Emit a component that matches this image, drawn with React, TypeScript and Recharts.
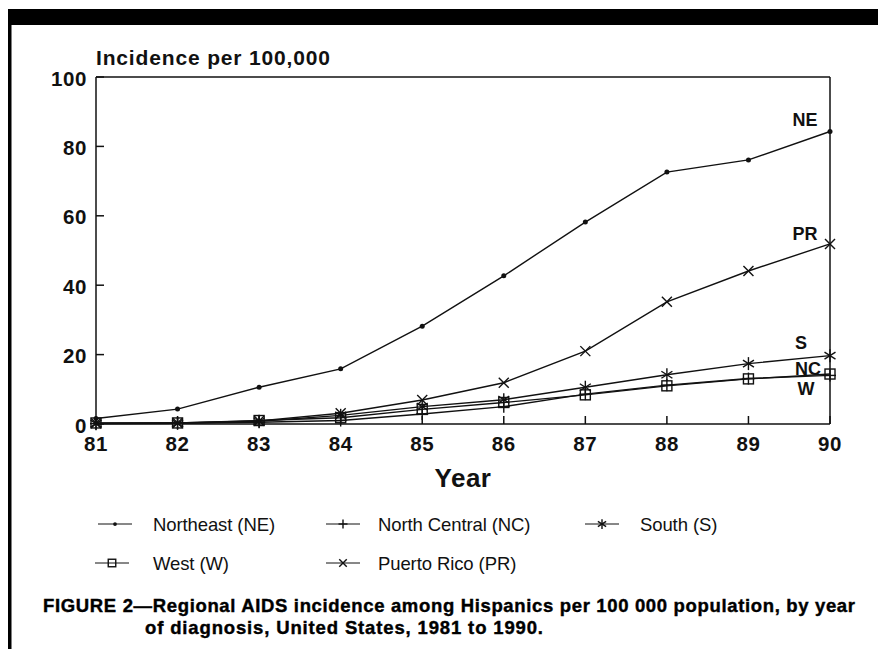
import React from 'react';
import { LineChart, Line, XAxis, YAxis, ReferenceLine } from 'recharts';

// values (incidence per 100,000)
const years = [81, 82, 83, 84, 85, 86, 87, 88, 89, 90];
const northeast = [1.6, 4.3, 10.6, 15.9, 28.2, 42.7, 58.2, 72.6, 76.1, 84.3];
const northCentral = [0.1, 0.2, 0.5, 1.0, 2.9, 5.0, 8.6, 11.2, 13.1, 14.0];
const south = [0.1, 0.2, 0.8, 2.5, 5.0, 7.0, 10.6, 14.2, 17.4, 19.7];
const west = [0.3, 0.3, 1.0, 1.8, 4.2, 6.2, 8.4, 11.0, 13.0, 14.4];
const puertoRico = [0.2, 0.3, 0.9, 3.1, 6.9, 11.9, 21.0, 35.2, 44.1, 51.9];
const yTicks = [0, 20, 40, 60, 80, 100];

const seriesNames = ['Northeast (NE)', 'North Central (NC)', 'South (S)', 'West (W)', 'Puerto Rico (PR)'];

const data = years.map((year, i) => ({
  year,
  ne: northeast[i],
  nc: northCentral[i],
  s: south[i],
  w: west[i],
  pr: puertoRico[i],
}));

const FONT = '"Liberation Sans", Arial, Helvetica, sans-serif';
const INK = '#111';

type Kind = 'dot' | 'plus' | 'star' | 'square' | 'cross';

const Marker = ({ kind, cx, cy, s = 1 }: { kind: Kind; cx: number; cy: number; s?: number }) => {
  if (cx == null || cy == null) return <g />;
  const sw = 1.4;
  switch (kind) {
    case 'dot':
      return <circle cx={cx} cy={cy} r={2.5 * s} fill={INK} />;
    case 'plus':
      return (
        <g stroke={INK} strokeWidth={sw}>
          <line x1={cx - 6 * s} y1={cy} x2={cx + 6 * s} y2={cy} />
          <line x1={cx} y1={cy - 6 * s} x2={cx} y2={cy + 6 * s} />
        </g>
      );
    case 'star':
      return (
        <g stroke={INK} strokeWidth={sw}>
          <line x1={cx} y1={cy - 6.5 * s} x2={cx} y2={cy + 6.5 * s} />
          <line x1={cx - 5.5 * s} y1={cy - 3.5 * s} x2={cx + 5.5 * s} y2={cy + 3.5 * s} />
          <line x1={cx - 5.5 * s} y1={cy + 3.5 * s} x2={cx + 5.5 * s} y2={cy - 3.5 * s} />
        </g>
      );
    case 'square':
      return <rect x={cx - 5 * s} y={cy - 5 * s} width={10 * s} height={10 * s} fill="none" stroke={INK} strokeWidth={sw} />;
    case 'cross':
      return (
        <g stroke={INK} strokeWidth={sw}>
          <line x1={cx - 5 * s} y1={cy - 5 * s} x2={cx + 5 * s} y2={cy + 5 * s} />
          <line x1={cx - 5 * s} y1={cy + 5 * s} x2={cx + 5 * s} y2={cy - 5 * s} />
        </g>
      );
  }
};

const XTick = (props: any) => {
  const { x, y, payload } = props;
  return (
    <g>
      <line x1={x} y1={y} x2={x} y2={y - 8} stroke={INK} strokeWidth={1.5} />
      <text x={x} y={y + 19} textAnchor="middle" dominantBaseline="central" fontFamily={FONT} fontWeight="bold" fontSize={20.5} letterSpacing={0.6} fill={INK}>
        {payload.value}
      </text>
    </g>
  );
};

const YTick = (props: any) => {
  const { x, y, payload } = props;
  return (
    <g>
      <line x1={x} y1={y} x2={x + 8} y2={y} stroke={INK} strokeWidth={1.5} />
      <text x={x - 9} y={y + 1} textAnchor="end" dominantBaseline="central" fontFamily={FONT} fontWeight="bold" fontSize={20.5} letterSpacing={0.6} fill={INK}>
        {payload.value}
      </text>
    </g>
  );
};

const endLabel = (text: string, dx: number, dy: number) => (props: any) => {
  if (props.index !== years.length - 1) return <g key={`lbl-${text}-${props.index}`} />;
  return (
    <text key={`lbl-${text}`} x={props.x + dx} y={props.y + dy} textAnchor="middle" dominantBaseline="central" fontFamily={FONT} fontWeight="bold" fontSize={18} fill={INK}>
      {text}
    </text>
  );
};

const dotOf = (kind: Kind, key: string) => (p: any) => <Marker key={`${key}-${p.index}`} kind={kind} cx={p.cx} cy={p.cy} />;

const LegendItem = ({ kind, name, sx, tx, cy }: { kind: Kind; name: string; sx: number; tx: number; cy: number }) => (
  <g>
    <line x1={sx - 17} y1={cy} x2={sx + 17} y2={cy} stroke={INK} strokeWidth={1} />
    <Marker kind={kind} cx={sx} cy={cy} s={0.75} />
    <text x={tx} y={cy} dominantBaseline="central" fontFamily={FONT} fontSize={18.5} letterSpacing={-0.1} fill={INK}>
      {name}
    </text>
  </g>
);

export default function App() {
  const W = 878;
  const H = 649;
  return (
    <div style={{ position: 'absolute', left: 0, top: 0, width: W, height: H, background: '#fff', overflow: 'hidden' }}>
      <LineChart width={W} height={H} data={data} margin={{ top: 77, right: 48, left: 36, bottom: 195 }}>
        <XAxis
          dataKey="year"
          type="number"
          domain={[81, 90]}
          ticks={years}
          interval={0}
          tick={<XTick />}
          tickLine={false}
          tickSize={0}
          tickMargin={0}
          height={30}
          axisLine={{ stroke: INK, strokeWidth: 1.5 }}
        />
        <YAxis
          type="number"
          domain={[0, 100]}
          ticks={yTicks}
          interval={0}
          tick={<YTick />}
          tickLine={false}
          tickSize={0}
          tickMargin={0}
          width={60}
          axisLine={{ stroke: INK, strokeWidth: 1.5 }}
        />
        <ReferenceLine y={100} stroke={INK} strokeWidth={1.5} />
        <ReferenceLine x={90} stroke={INK} strokeWidth={1.5} />
        <Line dataKey="pr" stroke={INK} strokeWidth={1.4} isAnimationActive={false} dot={dotOf('cross', 'pr')} label={endLabel('PR', -25, -10)} />
        <Line dataKey="ne" stroke={INK} strokeWidth={1.4} isAnimationActive={false} dot={dotOf('dot', 'ne')} label={endLabel('NE', -25, -11)} />
        <Line dataKey="s" stroke={INK} strokeWidth={1.4} isAnimationActive={false} dot={dotOf('star', 's')} label={endLabel('S', -29, -13)} />
        <Line dataKey="w" stroke={INK} strokeWidth={1.4} isAnimationActive={false} dot={dotOf('square', 'w')} label={endLabel('W', -24, 15)} />
        <Line dataKey="nc" stroke={INK} strokeWidth={1.4} isAnimationActive={false} dot={dotOf('plus', 'nc')} label={endLabel('NC', -22, -6)} />
      </LineChart>

      <svg width={W} height={H} style={{ position: 'absolute', left: 0, top: 0, pointerEvents: 'none' }}>
        <rect x={8} y={9} width={870} height={16} fill="#000" />
        <rect x={8} y={9} width={3.5} height={640} fill="#000" />

        <text x={96} y={57} dominantBaseline="central" fontFamily={FONT} fontWeight="bold" fontSize={21} textLength={234} lengthAdjust="spacing" fill={INK}>
          Incidence per 100,000
        </text>
        <text x={463} y={478} textAnchor="middle" dominantBaseline="central" fontFamily={FONT} fontWeight="bold" fontSize={26} letterSpacing={0.5} fill={INK}>
          Year
        </text>

        <LegendItem kind="dot" name={seriesNames[0]} sx={115} tx={153} cy={524} />
        <LegendItem kind="plus" name={seriesNames[1]} sx={343} tx={378} cy={524} />
        <LegendItem kind="star" name={seriesNames[2]} sx={602} tx={640} cy={524} />
        <LegendItem kind="square" name={seriesNames[3]} sx={112} tx={153} cy={563} />
        <LegendItem kind="cross" name={seriesNames[4]} sx={343} tx={378} cy={563} />

        <text x={43} y={605} dominantBaseline="central" fontFamily={FONT} fontWeight="bold" fontSize={18.5} textLength={812} lengthAdjust="spacing" fill="#000" stroke="#000" strokeWidth={0.4}>
          FIGURE 2—Regional AIDS incidence among Hispanics per 100 000 population, by year
        </text>
        <text x={145} y={627} dominantBaseline="central" fontFamily={FONT} fontWeight="bold" fontSize={18.5} textLength={398} lengthAdjust="spacing" fill="#000" stroke="#000" strokeWidth={0.4}>
          of diagnosis, United States, 1981 to 1990.
        </text>
      </svg>
    </div>
  );
}
